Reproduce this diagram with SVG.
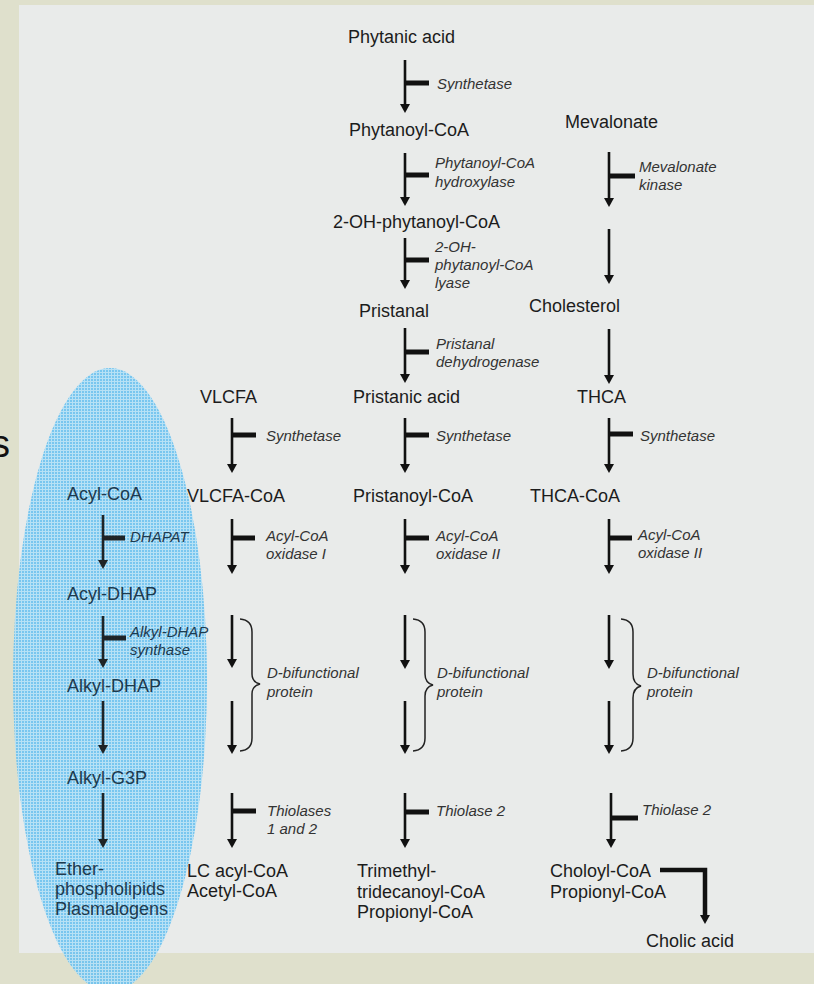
<svg xmlns="http://www.w3.org/2000/svg" width="814" height="984" viewBox="0 0 814 984">
  <defs>
    <style>
      .node { font-family: "Liberation Sans", Arial, sans-serif; font-size: 18px; fill: #1c1c1c; }
      .enz { font-family: "Liberation Sans", Arial, sans-serif; font-size: 15px; font-style: italic; fill: #333333; }
      .ell .node { fill: #1d3a4e; }
      .ell .enz { fill: #1d3a4e; }
      .step { stroke: #111111; stroke-width: 2.6; fill: none; marker-end: url(#head); }
      .bar { stroke: #111111; stroke-width: 5; fill: none; }
      .brace { stroke: #222222; stroke-width: 1.5; fill: none; }
      .elbow { stroke: #111111; stroke-width: 4.5; fill: none; marker-end: url(#head); }
    </style>
    <marker id="head" markerUnits="userSpaceOnUse" viewBox="0 -5 10 10" refX="4" refY="0" markerWidth="10" markerHeight="10" orient="auto">
      <path d="M0,-5 L9,0 L0,5 z" fill="#111111"/>
    </marker>
    <pattern id="grid" width="3" height="3" patternUnits="userSpaceOnUse">
      <rect width="3" height="3" fill="#6fc3ef"/>
      <rect width="3" height="1" fill="#b3e0f6"/>
      <rect width="1" height="3" fill="#b3e0f6"/>
    </pattern>
  </defs>

  <!-- frame and panel -->
  <rect x="0" y="0" width="814" height="984" fill="#dfe0cc"/>
  <rect x="19" y="5" width="795" height="948" fill="#e9ebea"/>
  <text x="-9" y="457" font-family="Liberation Sans, Arial, sans-serif" font-size="38" fill="#111111">s</text>

  <!-- ether lipid region -->
  <ellipse cx="110" cy="680" rx="97" ry="312" fill="url(#grid)" opacity="0.92"/>

  <!-- connectors -->
  <g id="connectors">
    <!-- phytanic acid column -->
    <line class="step" x1="405" y1="60" x2="405" y2="108"/>
    <line class="bar" x1="405" y1="83" x2="429" y2="83"/>
    <line class="step" x1="405" y1="153" x2="405" y2="201"/>
    <line class="bar" x1="405" y1="175" x2="429" y2="175"/>
    <line class="step" x1="405" y1="238" x2="405" y2="284"/>
    <line class="bar" x1="405" y1="260" x2="429" y2="260"/>
    <line class="step" x1="405" y1="328" x2="405" y2="378"/>
    <line class="bar" x1="405" y1="352" x2="429" y2="352"/>
    <line class="step" x1="405" y1="418" x2="405" y2="468"/>
    <line class="bar" x1="405" y1="435" x2="429" y2="435"/>
    <line class="step" x1="405" y1="519" x2="405" y2="569"/>
    <line class="bar" x1="405" y1="538" x2="429" y2="538"/>
    <line class="step" x1="405" y1="615" x2="405" y2="664"/>
    <line class="step" x1="405" y1="701" x2="405" y2="749"/>
    <line class="step" x1="405" y1="793" x2="405" y2="843"/>
    <line class="bar" x1="405" y1="812" x2="429" y2="812"/>
    <path class="brace" d="M413,619 Q425,620 425,632 L425,674 Q425,683 433,685 Q425,687 425,696 L425,738 Q425,750 413,751"/>

    <!-- mevalonate / bile acid column -->
    <line class="step" x1="609" y1="152" x2="609" y2="202"/>
    <line class="bar" x1="609" y1="176" x2="635" y2="176"/>
    <line class="step" x1="609" y1="229" x2="609" y2="279"/>
    <line class="step" x1="609" y1="329" x2="609" y2="379"/>
    <line class="step" x1="609" y1="418" x2="609" y2="468"/>
    <line class="bar" x1="609" y1="434" x2="633" y2="434"/>
    <line class="step" x1="609" y1="519" x2="609" y2="569"/>
    <line class="bar" x1="609" y1="538" x2="632" y2="538"/>
    <line class="step" x1="609" y1="615" x2="609" y2="664"/>
    <line class="step" x1="609" y1="701" x2="609" y2="749"/>
    <line class="step" x1="611" y1="793" x2="611" y2="843"/>
    <line class="bar" x1="611" y1="818" x2="638" y2="818"/>
    <path class="brace" d="M621,619 Q633,620 633,632 L633,674 Q633,684 641,686 Q633,688 633,698 L633,738 Q633,750 621,751"/>
    <polyline class="elbow" points="660,870 705,870 705,919"/>

    <!-- VLCFA column -->
    <line class="step" x1="232" y1="418" x2="232" y2="468"/>
    <line class="bar" x1="232" y1="435" x2="256" y2="435"/>
    <line class="step" x1="232" y1="519" x2="232" y2="569"/>
    <line class="bar" x1="232" y1="538" x2="255" y2="538"/>
    <line class="step" x1="232" y1="615" x2="232" y2="663"/>
    <line class="step" x1="232" y1="701" x2="232" y2="749"/>
    <line class="step" x1="232" y1="793" x2="232" y2="843"/>
    <line class="bar" x1="232" y1="811" x2="256" y2="811"/>
    <path class="brace" d="M240,619 Q252,620 252,632 L252,674 Q252,682 260,684 Q252,686 252,694 L252,738 Q252,750 240,751"/>

    <!-- ether lipid column -->
    <g opacity="0.9">
      <line class="step" x1="103" y1="515" x2="103" y2="564"/>
      <line class="bar" x1="103" y1="538" x2="125" y2="538"/>
      <line class="step" x1="103" y1="616" x2="103" y2="663"/>
      <line class="bar" x1="103" y1="638" x2="126" y2="638"/>
      <line class="step" x1="103" y1="701" x2="103" y2="749"/>
      <line class="step" x1="103" y1="793" x2="103" y2="843"/>
    </g>
  </g>

  <!-- metabolites -->
  <g id="phytanic-acid"><text class="node" x="348" y="43">Phytanic acid</text></g>
  <g id="phytanoyl-coa"><text class="node" x="349" y="136">Phytanoyl-CoA</text></g>
  <g id="mevalonate"><text class="node" x="565" y="128">Mevalonate</text></g>
  <g id="oh-phytanoyl-coa"><text class="node" x="333" y="228">2-OH-phytanoyl-CoA</text></g>
  <g id="pristanal"><text class="node" x="359" y="317">Pristanal</text></g>
  <g id="cholesterol"><text class="node" x="529" y="312">Cholesterol</text></g>
  <g id="vlcfa"><text class="node" x="200" y="403">VLCFA</text></g>
  <g id="pristanic-acid"><text class="node" x="353" y="403">Pristanic acid</text></g>
  <g id="thca"><text class="node" x="577" y="403">THCA</text></g>
  <g id="vlcfa-coa"><text class="node" x="187" y="502">VLCFA-CoA</text></g>
  <g id="pristanoyl-coa"><text class="node" x="353" y="502">Pristanoyl-CoA</text></g>
  <g id="thca-coa"><text class="node" x="530" y="502">THCA-CoA</text></g>
  <g id="lc-acyl-coa"><text class="node" x="187" y="877">LC acyl-CoA</text><text class="node" x="187" y="897">Acetyl-CoA</text></g>
  <g id="trimethyl-tridecanoyl-coa"><text class="node" x="357" y="877">Trimethyl-</text><text class="node" x="357" y="898">tridecanoyl-CoA</text><text class="node" x="357" y="918">Propionyl-CoA</text></g>
  <g id="choloyl-coa"><text class="node" x="550" y="877">Choloyl-CoA</text><text class="node" x="550" y="898">Propionyl-CoA</text></g>
  <g id="cholic-acid"><text class="node" x="646" y="947">Cholic acid</text></g>

  <g class="ell">
    <g id="acyl-coa"><text class="node" x="67" y="500">Acyl-CoA</text></g>
    <g id="acyl-dhap"><text class="node" x="67" y="600">Acyl-DHAP</text></g>
    <g id="alkyl-dhap"><text class="node" x="67" y="692">Alkyl-DHAP</text></g>
    <g id="alkyl-g3p"><text class="node" x="67" y="784">Alkyl-G3P</text></g>
    <g id="ether-phospholipids"><text class="node" x="55" y="875">Ether-</text><text class="node" x="55" y="895">phospholipids</text><text class="node" x="55" y="915">Plasmalogens</text></g>
    <text class="enz" x="130" y="542">DHAPAT</text>
    <text class="enz" x="130" y="637">Alkyl-DHAP</text>
    <text class="enz" x="130" y="655">synthase</text>
  </g>

  <!-- enzymes -->
  <g id="enzymes">
    <text class="enz" x="437" y="89">Synthetase</text>
    <text class="enz" x="435" y="168">Phytanoyl-CoA</text>
    <text class="enz" x="435" y="187">hydroxylase</text>
    <text class="enz" x="435" y="252">2-OH-</text>
    <text class="enz" x="435" y="270">phytanoyl-CoA</text>
    <text class="enz" x="435" y="288">lyase</text>
    <text class="enz" x="639" y="172">Mevalonate</text>
    <text class="enz" x="639" y="190">kinase</text>
    <text class="enz" x="436" y="349">Pristanal</text>
    <text class="enz" x="436" y="367">dehydrogenase</text>
    <text class="enz" x="266" y="441">Synthetase</text>
    <text class="enz" x="436" y="441">Synthetase</text>
    <text class="enz" x="640" y="441">Synthetase</text>
    <text class="enz" x="266" y="541">Acyl-CoA</text>
    <text class="enz" x="266" y="559">oxidase I</text>
    <text class="enz" x="436" y="541">Acyl-CoA</text>
    <text class="enz" x="436" y="559">oxidase II</text>
    <text class="enz" x="638" y="540">Acyl-CoA</text>
    <text class="enz" x="638" y="558">oxidase II</text>
    <text class="enz" x="267" y="678">D-bifunctional</text>
    <text class="enz" x="267" y="697">protein</text>
    <text class="enz" x="437" y="678">D-bifunctional</text>
    <text class="enz" x="437" y="697">protein</text>
    <text class="enz" x="647" y="678">D-bifunctional</text>
    <text class="enz" x="647" y="697">protein</text>
    <text class="enz" x="267" y="816">Thiolases</text>
    <text class="enz" x="267" y="834">1 and 2</text>
    <text class="enz" x="436" y="816">Thiolase 2</text>
    <text class="enz" x="642" y="815">Thiolase 2</text>
  </g>
</svg>
